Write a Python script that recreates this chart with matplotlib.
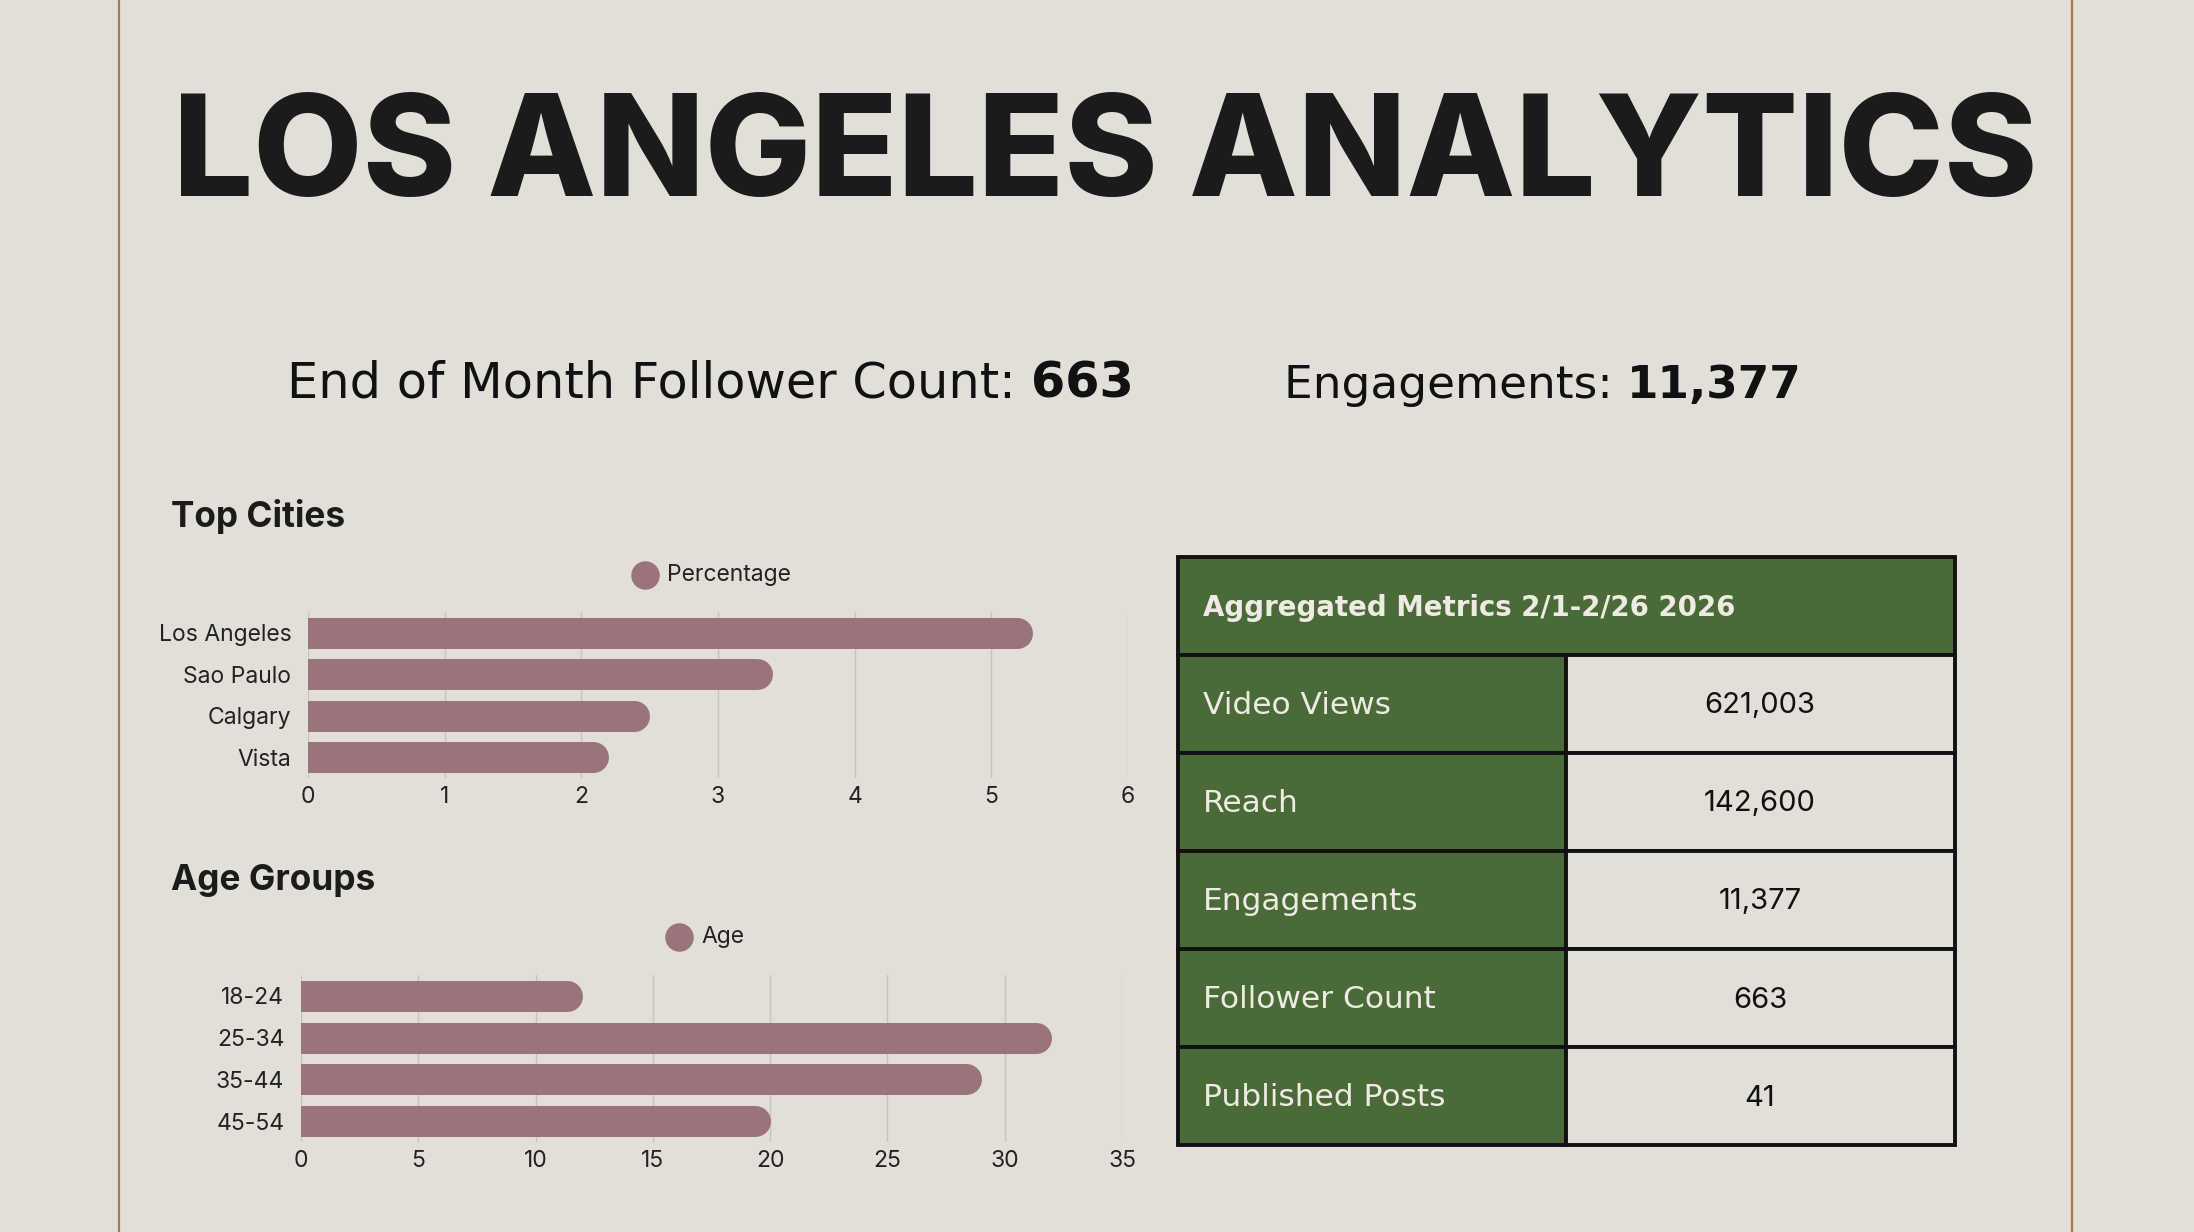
import matplotlib
matplotlib.use("Agg")
import matplotlib.pyplot as plt
from matplotlib.patches import Rectangle

W, H = 2194, 1232

BG = "#e1dfd8"
GREEN = "#4a6a38"
BAR = "#9a747a"
EDGE = "#b4734e"
INK = "#1b1b1b"
GRID = "#c6c3bd"

# data
title = "LOS ANGELES ANALYTICS"
follower_count = "663"
engagements = "11,377"

cities = ["Los Angeles", "Sao Paulo", "Calgary", "Vista"]
city_pct = [5.3, 3.4, 2.5, 2.2]
city_ticks = [0, 1, 2, 3, 4, 5, 6]

age_groups = ["18-24", "25-34", "35-44", "45-54"]
age_share = [12, 32, 29, 20]
age_ticks = [0, 5, 10, 15, 20, 25, 30, 35]

table_title = "Aggregated Metrics 2/1-2/26 2026"
metric_names = ["Video Views", "Reach", "Engagements", "Follower Count", "Published Posts"]
metric_values = ["621,003", "142,600", "11,377", "663", "41"]

SANS = ["Inter", "DejaVu Sans"]
WIDE = ["DejaVu Sans"]

fig = plt.figure(figsize=(W / 100, H / 100), dpi=100, facecolor=BG)

# full page axes in pixel units (y down)
bg = fig.add_axes([0, 0, 1, 1])
bg.set_xlim(0, W)
bg.set_ylim(H, 0)
bg.axis("off")
bg.set_facecolor(BG)

fig.canvas.draw()
renderer = fig.canvas.get_renderer()


def fit(t, width):
    # scale font so the text spans the wanted pixel width
    w = t.get_window_extent(renderer).width
    t.set_fontsize(t.get_fontsize() * width / w)
    return t


def text_w(t):
    return t.get_window_extent(renderer).width


# page edges
bg.plot([119, 119], [0, H], color=EDGE, lw=1.6)
bg.plot([2072, 2072], [0, H], color=EDGE, lw=1.6)

# title
t = bg.text(1105, 196, title, ha="center", va="baseline", fontsize=90,
            fontweight="heavy", family=SANS, color=INK)
fit(t, 1865)

# follower / engagement line
def label_pair(x, baseline, plain, bold, width):
    a = bg.text(x, baseline, plain, ha="left", va="baseline", fontsize=30,
                family=WIDE, color="#111111")
    b = bg.text(x, baseline, bold, ha="left", va="baseline", fontsize=30,
                family=WIDE, fontweight="bold", color="#111111")
    scale = width / (text_w(a) + text_w(b))
    a.set_fontsize(30 * scale)
    b.set_fontsize(30 * scale)
    b.set_x(x + text_w(a))

label_pair(287, 398, "End of Month Follower Count: ", follower_count, 847)
label_pair(1284, 398, "Engagements: ", engagements, 518)

# section headings
fit(bg.text(171, 527, "Top Cities", ha="left", va="baseline", fontsize=30,
            fontweight="bold", family=SANS, color=INK), 174)
fit(bg.text(171, 890, "Age Groups", ha="left", va="baseline", fontsize=30,
            fontweight="bold", family=SANS, color=INK), 204)


def px_axes(x0, y0, x1, y1):
    return fig.add_axes([x0 / W, 1 - y1 / H, (x1 - x0) / W, (y1 - y0) / H])


def bar_chart(ax, labels, vals, ticks, legend_name, legend_xy):
    xmax = ticks[-1]
    ax.set_xlim(0, xmax)
    ax.set_ylim(len(vals) - 0.5, -0.5)
    ax.set_facecolor("none")
    bar_px = 31
    ax_w = ax.get_position().width * W
    r = bar_px / 2 * xmax / ax_w
    for i, v in enumerate(vals):
        ax.plot([0, v - r], [i, i], color=BAR, lw=bar_px * 0.72,
                solid_capstyle="round", zorder=3)
    ax.set_yticks(range(len(labels)))
    ax.set_yticklabels(labels)
    ax.set_xticks(ticks)
    ax.grid(axis="x", color=GRID, lw=1.0, zorder=0)
    ax.set_axisbelow(True)
    for s in ax.spines.values():
        s.set_visible(False)
    ax.tick_params(length=0, labelsize=16.5, colors="#222222", pad=6)
    for lab in ax.get_xticklabels() + ax.get_yticklabels():
        lab.set_family(SANS)
    ax.tick_params(axis="y", pad=12)
    # legend entry
    cx, cy = legend_xy
    bg.scatter([cx], [cy], s=380, color=BAR, zorder=4)
    bg.text(cx + 22, cy, legend_name, ha="left", va="center", fontsize=16.5,
            family=SANS, color="#222222")


ax1 = px_axes(308, 612, 1128, 778)
bar_chart(ax1, cities, city_pct, city_ticks, "Percentage", (645, 575))

ax2 = px_axes(301, 975, 1122, 1142)
bar_chart(ax2, age_groups, age_share, age_ticks, "Age", (679, 937))

# metrics table
tx0, tx1, tmid = 1178, 1955, 1566
ty0, head_h, row_h = 557, 98, 98
n = len(metric_names)
bg.add_patch(Rectangle((tx0, ty0), tx1 - tx0, head_h, facecolor=GREEN,
                       edgecolor="#111111", lw=2.8, zorder=2))
fit(bg.text(1203, ty0 + head_h / 2 + 2, table_title, ha="left", va="center",
            fontsize=20, fontweight="bold", family=WIDE, color="#eeebe4",
            zorder=3), 532)
for i, (name, val) in enumerate(zip(metric_names, metric_values)):
    y = ty0 + head_h + i * row_h
    bg.add_patch(Rectangle((tx0, y), tmid - tx0, row_h, facecolor=GREEN,
                           edgecolor="#111111", lw=2.8, zorder=2))
    bg.add_patch(Rectangle((tmid, y), tx1 - tmid, row_h, facecolor=BG,
                           edgecolor="#111111", lw=2.8, zorder=2))
    bg.text(1203, y + row_h / 2 + 2, name, ha="left", va="center", fontsize=22.5,
            family=WIDE, color="#eeebe4", zorder=3)
    bg.text(1760, y + row_h / 2 + 2, val, ha="center", va="center", fontsize=21,
            family=SANS, color="#111111", zorder=3)

fig.savefig("out.png", dpi=100, facecolor=BG)
